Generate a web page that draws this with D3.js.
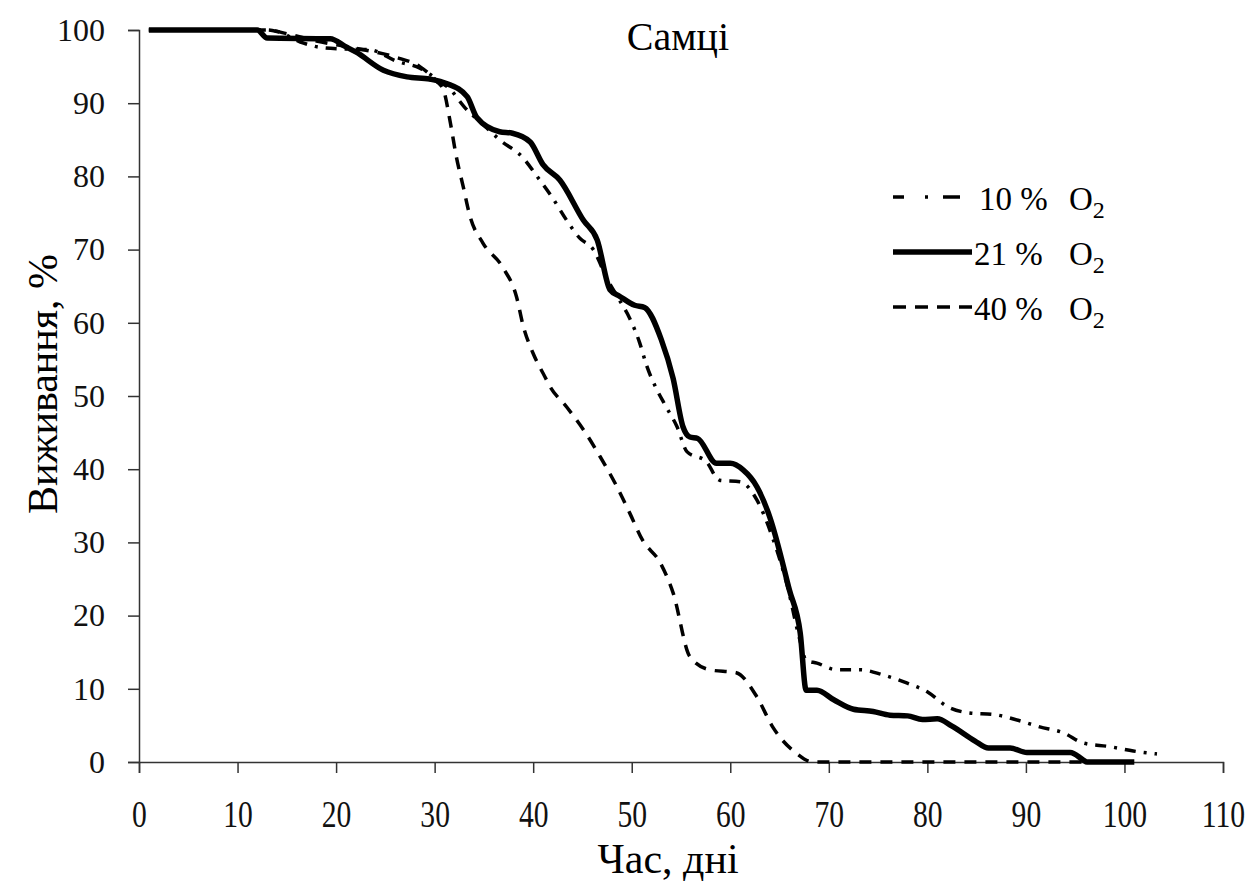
<!DOCTYPE html>
<html>
<head>
<meta charset="utf-8">
<script src="https://cdn.jsdelivr.net/npm/d3@7"></script>
<style>
  body { margin: 0; background: #fff; }
</style>
</head>
<body>
<script>
// Drawing area
const WIDTH = 1251
const HEIGHT = 884
const margin = { top: 30, right: 28, bottom: 122, left: 139 }
const FONT = "'Liberation Serif', 'DejaVu Serif', serif"

// Tick labels
const xTicks = [0, 10, 20, 30, 40, 50, 60, 70, 80, 90, 100, 110]
const yTicks = [0, 10, 20, 30, 40, 50, 60, 70, 80, 90, 100]

// Series: days and survival (%)
const days10 = [1, 13, 14, 16.7, 18.5, 21, 23.4, 26.2, 28.5, 30.5, 31.5, 33, 35, 36.6, 39, 40.4, 41.9, 43.4, 44.7, 46.1, 47.5, 48.8, 49.8, 50.8, 51.5, 52.5, 53.5, 54.6, 55.6, 57.6, 58.9, 61, 62.7, 64.2, 65.8, 67, 67.7, 68.8, 70.8, 73.2, 75.5, 77.9, 80.1, 82, 84.3, 86.7, 89.2, 91.4, 93.8, 95.8, 98.5, 100.9, 103.3]
const surv10 = [100, 100, 99.8, 98.2, 97.6, 97.4, 97.3, 95.7, 94.8, 93, 92, 89.5, 87, 85, 82.5, 80, 77.2, 74, 71.6, 70, 66, 63, 60.6, 57.3, 54.2, 51, 48.5, 45.8, 42.4, 41, 38.5, 38.3, 35.8, 31, 24, 17, 13.9, 13.5, 12.6, 12.6, 11.9, 10.8, 9.5, 7.6, 6.7, 6.5, 5.7, 4.8, 4, 2.6, 2.1, 1.5, 1.1]

const days21 = [1, 12, 13, 19.4, 21, 22, 24.8, 27.2, 29.5, 31.2, 33.3, 34.3, 36.6, 37.9, 39.7, 41, 42.7, 45.1, 46.5, 47.8, 48.8, 50.3, 51.3, 53, 54.2, 55.2, 55.9, 56.7, 58.6, 60, 61.3, 62.7, 64, 66, 67.1, 67.7, 68.8, 70.5, 72.5, 74.5, 76.2, 78, 79.5, 81, 82.5, 84.8, 86.2, 88.4, 90.1, 94.5, 95.8, 96.2, 101]
const surv21 = [100, 100, 98.9, 98.8, 97.7, 97, 94.5, 93.6, 93.3, 92.7, 90.9, 88, 86.1, 85.9, 84.7, 81.6, 79.5, 74, 71.3, 64.5, 63.6, 62.4, 62.1, 57.7, 52.4, 45.8, 44.4, 44.2, 40.8, 40.8, 39.9, 37.6, 33.5, 23.5, 17.6, 9.8, 9.8, 8.5, 7.2, 6.9, 6.4, 6.3, 5.8, 5.9, 4.9, 2.9, 1.9, 1.9, 1.3, 1.3, 0.3, 0, 0]

const days40 = [1, 13, 15, 18, 22, 26, 28.5, 30.2, 30.9, 31.6, 32.2, 32.9, 33.6, 34.9, 36.9, 38.3, 39, 40, 41.2, 41.7, 43.4, 45.1, 46.8, 48.5, 49.8, 51.1, 52.9, 54.2, 55.9, 57.9, 60.6, 62.7, 64.3, 66.7, 68.4, 96]
const surv40 = [100, 100, 99.5, 98.5, 97.5, 96.3, 95, 93, 91.8, 87.3, 82.7, 78.6, 74.5, 70.9, 67.6, 63.6, 59.5, 55.8, 52.6, 51.3, 48.5, 45.4, 41.7, 37.6, 34, 30.3, 27.2, 23.1, 14.4, 12.6, 12.2, 8.9, 4.8, 1.2, 0, 0]

const seriesNames = ["10 %", "21 %", "40 %"]

const series = [
    { name: seriesNames[0], days: days10, surv: surv10, width: 3.5, dash: "11,8,3,8", legendDash: "11,21,3,15,17,60" },
    { name: seriesNames[1], days: days21, surv: surv21, width: 5.5, dash: null, legendDash: null },
    { name: seriesNames[2], days: days40, surv: surv40, width: 3.5, dash: "12,9", legendDash: "13,9" }
]

const svg = d3.select("body")
    .append("svg")
    .attr("width", WIDTH)
    .attr("height", HEIGHT)
    .style("font-family", FONT)

const x = d3.scaleLinear().domain([0, 110]).range([margin.left, WIDTH - margin.right])
const y = d3.scaleLinear().domain([0, 100]).range([HEIGHT - margin.bottom, margin.top])

// axes
const xAxis = svg.append("g")
    .attr("transform", `translate(0,${y(0)})`)
    .call(d3.axisBottom(x).tickValues(xTicks).tickSizeOuter(0).tickSize(11).tickPadding(28))
xAxis.selectAll("text")
    .style("font-size", "37px")
    .style("font-family", FONT)
    .attr("fill", "#111")
    .attr("transform", "scale(0.8,1)")

const yAxis = svg.append("g")
    .attr("transform", `translate(${x(0)},0)`)
    .call(d3.axisLeft(y).tickValues(yTicks).tickSizeOuter(0).tickSize(11).tickPadding(23))
yAxis.selectAll("text")
    .style("font-size", "32px")
    .style("font-family", FONT)
    .attr("fill", "#111")

svg.selectAll(".domain, .tick line")
    .attr("stroke", "#333")
    .attr("stroke-width", 1.5)

// curves
const line = d3.line()
    .x(d => x(d[0]))
    .y(d => y(d[1]))
    .curve(d3.curveMonotoneX)

series.forEach(s => {
    const pts = s.days.map((d, i) => [d, s.surv[i]])
    svg.append("path")
        .datum(pts)
        .attr("d", line)
        .attr("fill", "none")
        .attr("stroke", "#000")
        .attr("stroke-width", s.width)
        .attr("stroke-linejoin", "round")
        .attr("stroke-dasharray", s.dash)
})

// titles
svg.append("text")
    .attr("x", 678).attr("y", 50)
    .attr("text-anchor", "middle")
    .style("font-family", FONT)
    .style("font-size", "40px")
    .text("Самці")

svg.append("text")
    .attr("x", 668).attr("y", 873)
    .attr("text-anchor", "middle")
    .style("font-family", FONT)
    .style("font-size", "42px")
    .text("Час, дні")

svg.append("text")
    .attr("transform", "translate(57,384) rotate(-90)")
    .attr("text-anchor", "middle")
    .style("font-family", FONT)
    .style("font-size", "42px")
    .text("Виживання, %")

// legend
const legendY = [197, 252, 307]
series.forEach((s, i) => {
    const g = svg.append("g").attr("transform", `translate(0,${legendY[i]})`)
    g.append("line")
        .attr("x1", 893).attr("x2", i === 0 ? 960 : 972)
        .attr("stroke", "#000")
        .attr("stroke-width", s.width)
        .attr("stroke-dasharray", s.legendDash)
    g.append("text")
        .attr("x", i === 0 ? 979 : 974).attr("y", 13)
        .style("font-family", FONT)
        .style("font-size", "33px")
        .text(s.name)
    const o = g.append("text")
        .attr("x", 1069).attr("y", 13)
        .style("font-family", FONT)
        .style("font-size", "33px")
    o.append("tspan").text("O")
    o.append("tspan").attr("dy", 8).style("font-size", "24px").text("2")
})
</script>
</body>
</html>
